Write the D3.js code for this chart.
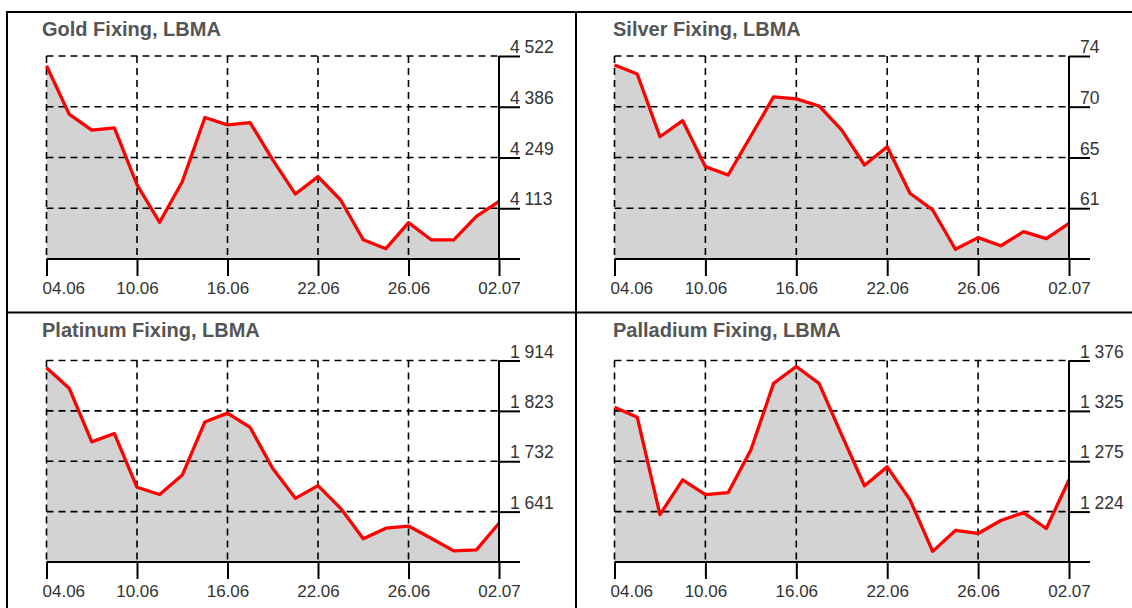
<!DOCTYPE html>
<html><head><meta charset="utf-8">
<script src="https://cdn.jsdelivr.net/npm/d3@7/dist/d3.min.js"></script>
<style>
html,body{margin:0;padding:0;background:#fff;}
svg{display:block;}
text{font-family:Arial,"Liberation Sans",sans-serif;}
</style></head>
<body>
<svg id="chart" width="1132" height="608"></svg>
<script>
// ---- data ----
const dates = ["04.06","05.06","08.06","09.06","10.06","11.06","12.06","15.06","16.06","17.06","18.06","19.06","22.06","23.06","24.06","25.06","26.06","29.06","30.06","01.07","02.07"];
const xTickLabels = ["04.06","10.06","16.06","22.06","26.06","02.07"];

const goldValues = [4496,4366,4323,4329,4176,4075,4184,4357,4337,4343,4243,4151,4198,4135,4028,4004,4074,4028,4028,4091,4131];
const silverValues = [73.13,72.37,67.02,68.39,64.47,63.76,67.08,70.41,70.24,69.64,67.59,64.61,66.17,62.2,60.78,57.43,58.42,57.73,58.93,58.33,59.64];
const platinumValues = [1901,1864,1767,1782,1685,1672,1707,1803,1819,1793,1719,1665,1688,1647,1592,1611,1615,1593,1570,1572,1620];
const palladiumValues = [1329,1319,1221,1256,1241,1243,1286,1353,1370,1353,1301,1250,1269,1236,1184,1205,1202,1215,1223,1207,1256];

const panelTitles = ["Gold Fixing, LBMA","Silver Fixing, LBMA","Platinum Fixing, LBMA","Palladium Fixing, LBMA"];
const yDomains = [[3976.3,4522.3],[56.6,73.9],[1550,1914],[1173.3,1376]];
const goldTicks = [4112.8,4249.3,4385.8,4522.3];
const silverTicks = [60.93,65.25,69.58,73.9];
const platinumTicks = [1641,1732,1823,1914];
const palladiumTicks = [1224,1274.7,1325.3,1376];
const goldTickLabels = ["4 113","4 249","4 386","4 522"];
const silverTickLabels = ["61","65","70","74"];
const platinumTickLabels = ["1 641","1 732","1 823","1 914"];
const palladiumTickLabels = ["1 224","1 275","1 325","1 376"];

const seriesList = [goldValues,silverValues,platinumValues,palladiumValues];
const tickList = [goldTicks,silverTicks,platinumTicks,palladiumTicks];
const tickLabelList = [goldTickLabels,silverTickLabels,platinumTickLabels,palladiumTickLabels];

// ---- layout ----
const svg = d3.select("#chart");
const cols = [{x0:46.5,x1:499,tx:42},{x0:614.5,x1:1069,tx:613}];
const rows = [{y0:56,y1:259,ty:35.5},{y0:360.5,y1:562,ty:337}];
const FONT = "Arial, 'Liberation Sans', sans-serif";

// frame
const frame = svg.append("g").attr("stroke","#000").attr("stroke-width",2).attr("fill","none");
frame.append("line").attr("x1",6).attr("x2",1132).attr("y1",12).attr("y2",12);
frame.append("line").attr("x1",7).attr("x2",7).attr("y1",11).attr("y2",608);
frame.append("line").attr("x1",576).attr("x2",576).attr("y1",11).attr("y2",608);
frame.append("line").attr("x1",6).attr("x2",1132).attr("y1",312.5).attr("y2",312.5);

const tickIdx = xTickLabels.map(l => dates.indexOf(l));

for (let p = 0; p < 4; p++) {
  const c = cols[p % 2], r = rows[Math.floor(p / 2)];
  const values = seriesList[p];
  const x = d3.scalePoint().domain(dates).range([c.x0, c.x1]);
  const y = d3.scaleLinear().domain(yDomains[p]).range([r.y1, r.y0]);
  const g = svg.append("g");

  g.append("text").attr("x", c.tx).attr("y", r.ty)
    .attr("font-size", 20).attr("font-weight", "bold").attr("fill", "#555")
    .attr("font-family", FONT)
    .text(panelTitles[p]);

  const pts = values.map((v, i) => [dates[i], v]);
  g.append("path").datum(pts)
    .attr("fill", "#d3d3d3")
    .attr("d", d3.area().x(d => x(d[0])).y0(r.y1).y1(d => y(d[1])));

  // grid
  const grid = g.append("g").attr("stroke", "#000").attr("stroke-width", 1.6).attr("stroke-dasharray", "7,5").attr("fill", "none");
  tickList[p].forEach(t => {
    grid.append("line").attr("x1", c.x0).attr("x2", c.x1).attr("y1", y(t)).attr("y2", y(t));
  });
  tickIdx.forEach(i => {
    grid.append("line").attr("x1", x(dates[i])).attr("x2", x(dates[i])).attr("y1", r.y0).attr("y2", r.y1);
  });

  g.append("path").datum(pts)
    .attr("fill", "none").attr("stroke", "#ff0000").attr("stroke-width", 3.3)
    .attr("stroke-linejoin", "round")
    .attr("d", d3.line().x(d => x(d[0])).y(d => y(d[1])));

  // right y axis
  const ya = d3.axisRight(y).tickValues(tickList[p]).tickSize(21)
    .tickFormat((d, i) => tickLabelList[p][i]);
  const yg = g.append("g").attr("transform", `translate(${c.x1},0)`).call(ya);
  yg.select(".domain").attr("d", `M0,${y(yDomains[p][1])}V${r.y1}`).attr("stroke-width", 2);
  yg.selectAll(".tick line").attr("stroke-width", 2);
  yg.selectAll(".tick text").attr("font-size", 17.5).attr("fill", "#333")
    .attr("x", 11).attr("y", -3.5).attr("dy", 0).attr("text-anchor", "start").attr("font-family", FONT);

  // bottom x axis
  const xa = d3.axisBottom(x).tickValues(xTickLabels).tickSize(17);
  const xg = g.append("g").attr("transform", `translate(0,${r.y1})`).call(xa);
  xg.select(".domain").attr("d", `M${c.x0},0H${c.x1 + 21}`).attr("stroke-width", 2);
  xg.selectAll(".tick line").attr("stroke-width", 2);
  xg.selectAll(".tick text").attr("font-size", 17).attr("fill", "#333").attr("font-family", FONT)
    .attr("y", 35).attr("dy", 0)
    .attr("text-anchor", (d, i) => i === 0 ? "start" : "middle")
    .attr("x", (d, i) => i === 0 ? -4.5 : 0);
}
</script>
</body></html>
